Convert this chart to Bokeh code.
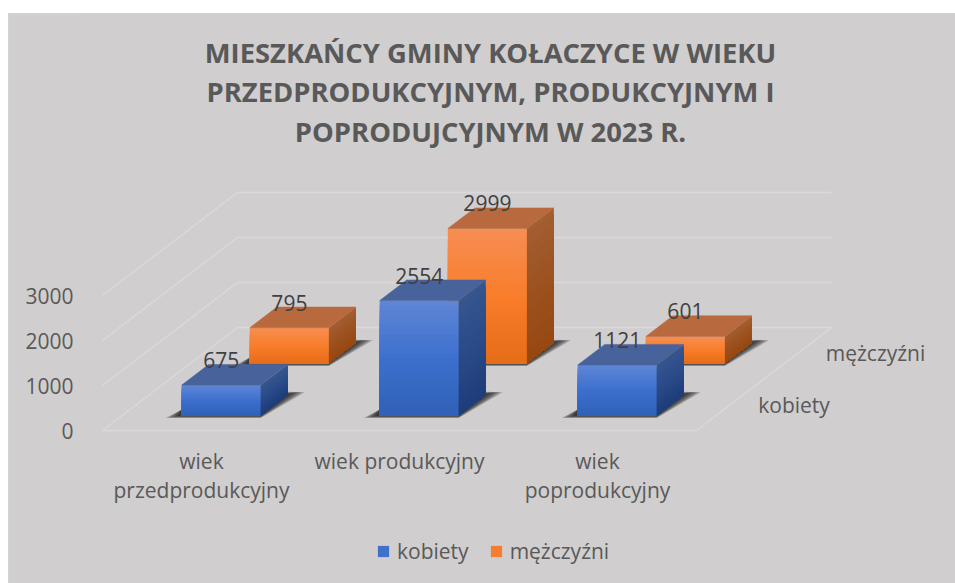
from bokeh.plotting import figure
from bokeh.models import ColumnDataSource, FixedTicker, Legend, LegendItem
from bokeh.core.properties import value
from bokeh.embed import file_html
from bokeh.resources import INLINE

categories = ["wiek\nprzedprodukcyjny", "wiek produkcyjny", "wiek\npoprodukcyjny"]
series_names = ["kobiety", "mężczyźni"]
kobiety = [675, 2554, 1121]
mezczyzni = [795, 2999, 601]
y_ticks = [0, 1000, 2000, 3000]
title_lines = ["MIESZKAŃCY GMINY KOŁACZYCE W WIEKU",
               "PRZEDPRODUKCYJNYM, PRODUKCYJNYM I",
               "POPRODUJCYJNYM W 2023 R."]

FONT = "Open Sans"
BG = "#D0CECE"
GRID = "#DAD9D9"
# pixel layout of the oblique projection
LEFT, BASE = 102.0, 430.0          # front-left floor corner (page px)
CAT_W = 198.0                      # width of a category on the floor
DX, DY = 135.0, 103.0              # shift of the back wall relative to the front
K = 0.045                          # px per unit of value
BAR_W = 79.0
BAR_D = 0.2                        # bar depth in depth-axis units
DEPTH0 = 0.146                     # front of the first series
DEPTH_STEP = 0.505                 # distance between series
PX = 1 / K


def proj(c, d, v):
    """category position c (0..3), depth d (0..1), value v -> data coordinates."""
    return LEFT + c * CAT_W + d * DX, v + d * DY * PX


fig_top, fig_bottom = 13, 583
p = figure(width=947, height=fig_bottom - fig_top, output_backend="svg", toolbar_location=None,
           x_range=(84, 955), y_range=((BASE - fig_bottom) * PX, (BASE - fig_top) * PX),
           x_axis_type=None, min_border_left=76, min_border_right=0, min_border_top=0,
           min_border_bottom=0, background_fill_color=BG, border_fill_color=BG,
           outline_line_color=BG, outline_line_width=2)
p.margin = (13, 0, 0, 8)
p.styles = {"outline": "2px solid #D6D5D5", "outline-offset": "-2px"}
p.grid.visible = False

ax = p.yaxis[0]
ax.ticker = FixedTicker(ticks=y_ticks)
ax.axis_line_color = None
ax.major_tick_line_color = None
ax.minor_tick_line_color = None
ax.major_label_text_font = FONT
ax.major_label_text_font_size = "21px"
ax.major_label_text_color = "#595959"
ax.major_label_standoff = 5

# walls and floor
gx, gy = [], []
for t in y_ticks:
    a, b, c = proj(0, 0, t), proj(0, 1, t), proj(3, 1, t)
    gx.append([a[0], b[0], c[0]])
    gy.append([a[1], b[1], c[1]])
a, b, c = proj(0, 0, 0), proj(3, 0, 0), proj(3, 1, 0)
gx.append([a[0], b[0], c[0]])
gy.append([a[1], b[1], c[1]])
p.multi_line(gx, gy, line_color=GRID, line_width=1.5)


def mix(c1, c2, t):
    h = lambda s: [int(s[i:i + 2], 16) for i in (1, 3, 5)]
    return "#%02x%02x%02x" % tuple(round(x + (y - x) * t) for x, y in zip(h(c1), h(c2)))


def grad(stops, t):
    if t < 0.5:
        return mix(stops[0], stops[1], t * 2)
    return mix(stops[1], stops[2], (t - 0.5) * 2)


STYLES = [
    dict(front=("#5F86D6", "#3D70CE", "#2F61B6"), side=("#36568F", "#2A4A88", "#1E3C7A"), top="#48639B"),
    dict(front=("#F68E54", "#F97D2B", "#E66C18"), side=("#A35E32", "#9C5220", "#96480F"), top="#B8693E"),
]
BANDS = 24


def bar_shadow(c_left, d, layers):
    x0, y0 = proj(c_left, d, 0)
    x1 = x0 + BAR_W
    sx, sy = [], []
    for g in layers:
        sx.append([x0 - 16 * g, x1, x1 + BAR_D * DX + 17 * g, x1 + BAR_D * DX, x0])
        sy.append([y0 - 2.5 * g * PX, y0 - 2.5 * g * PX, y0 + (BAR_D * DY + 2.5) * PX,
                   y0 + (BAR_D * DY + 3 * g) * PX, y0 + 6 * PX])
    return sx, sy


def draw_series(values, s):
    st = STYLES[s]
    d = DEPTH0 + s * DEPTH_STEP
    fx, fy, fc, tx, ty = [], [], [], [], []
    shx, shy = [], []
    for i, v in enumerate(values):
        c_left = i + (CAT_W - BAR_W) / 2 / CAT_W
        x0, y0 = proj(c_left, d, 0)
        x1 = x0 + BAR_W
        ox, oy = BAR_D * DX, BAR_D * DY * PX
        a, b = bar_shadow(c_left, d, [1.0, 0.85, 0.7, 0.55, 0.4, 0.25])
        shx += a
        shy += b
        for k in range(BANDS):
            t0 = k / BANDS
            ya = y0 + v * (1 - t0)
            # each band runs down to the foot of the bar; the next one covers it
            fx.append([x0, x1, x1, x0]); fy.append([ya, ya, y0, y0])
            fc.append(grad(st["front"], t0 + 0.5 / BANDS))
            fx.append([x1, x1 + ox, x1 + ox, x1]); fy.append([ya, ya + oy, y0 + oy, y0])
            fc.append(grad(st["side"], t0 + 0.5 / BANDS))
        tx.append([x0, x1, x1 + ox, x0 + ox])
        ty.append([y0 + v, y0 + v, y0 + v + oy, y0 + v + oy])
    p.patches(shx, shy, fill_color="#1a1a1a", fill_alpha=0.24, line_color=None)
    p.patches(xs="xs", ys="ys", fill_color="c", line_color=None,
              source=ColumnDataSource(dict(xs=fx, ys=fy, c=fc)))
    p.patches(tx, ty, fill_color=st["top"], line_color=st["top"], line_width=0.5)


# back series first, so that the front one covers it
draw_series(mezczyzni, 1)
draw_series(kobiety, 0)

# data labels
lx, ly, lt = [], [], []
for s, values in enumerate([kobiety, mezczyzni]):
    d = DEPTH0 + s * DEPTH_STEP
    for i, v in enumerate(values):
        x, y = proj(i + 0.5, d, v)
        lx.append(x); ly.append(y); lt.append(str(v))
p.text(lx, ly, text=lt, text_font=value(FONT), text_font_size="21px", text_color="#404040",
       text_align="center", text_baseline="middle", y_offset=-25)

# category labels
cx, cy, ct = [], [], []
for i, name in enumerate(categories):
    x, y = proj(i + 0.5, 0, 0)
    for j, line in enumerate(name.split("\n")):
        cx.append(x); cy.append(y - (30 + 29.5 * j) * PX); ct.append(line)
p.text(cx, cy, text=ct, text_font=value(FONT), text_font_size="21px", text_color="#595959",
       text_align="center", text_baseline="middle")

# series labels on the depth axis
sx, sy = [], []
for s in range(2):
    x, y = proj(3, 0.25 + 0.5 * s, 0)
    sx.append(x); sy.append(y)
p.text(sx, sy, text=series_names, text_font=value(FONT), text_font_size="21px", text_color="#595959",
       text_align="left", text_baseline="middle", x_offset=28, y_offset=0)

# title
for j, line in enumerate(title_lines):
    p.text([490], [(BASE - (51.5 + 39.5 * j)) * PX], text=[line], text_font=value(FONT),
           text_font_size="27.4px", text_font_style="bold", text_color="#595959",
           text_align="center", text_baseline="middle")

# legend
nan = float("nan")
r0 = p.quad(left=[nan], right=[nan], top=[nan], bottom=[nan], fill_color="#3F70CA", line_color=None)
r1 = p.quad(left=[nan], right=[nan], top=[nan], bottom=[nan], fill_color="#F57E32", line_color=None)
leg = Legend(items=[LegendItem(label=value(series_names[0]), renderers=[r0]),
                    LegendItem(label=value(series_names[1]), renderers=[r1])],
             orientation="horizontal", location=(292, 18), border_line_color=None,
             background_fill_alpha=0, glyph_width=14, glyph_height=14, spacing=20,
             label_text_font=FONT, label_text_font_size="21px", label_text_color="#595959",
             label_standoff=7, padding=4, margin=0)
p.add_layout(leg)

open("out.html", "w").write(file_html(p, INLINE))
